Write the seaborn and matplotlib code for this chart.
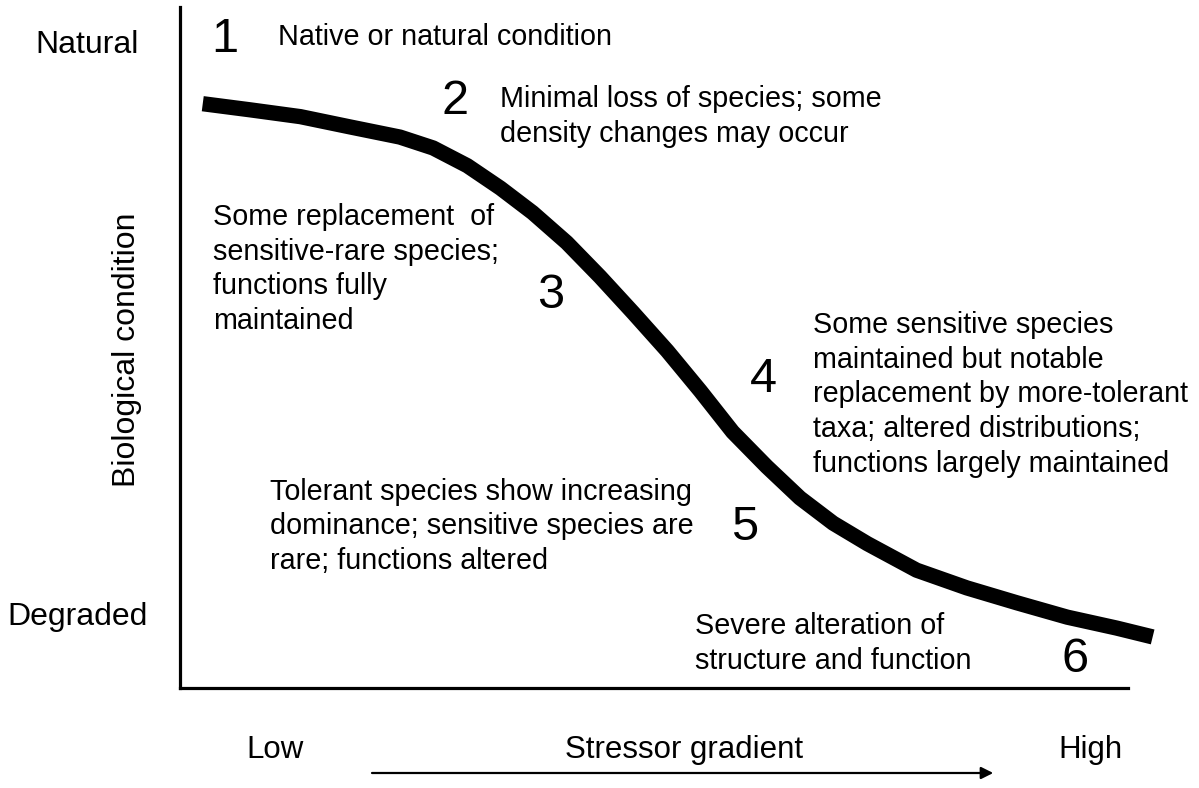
import numpy as np
import pandas as pd
import seaborn as sns
import matplotlib.pyplot as plt

# Courbe conceptuelle : condition biologique selon le gradient de stress (0-100)
stressor = [2.4, 7.4, 12.7, 17.9, 23.2, 26.7, 30.3, 33.8, 37.2, 40.8, 44.3,
            47.8, 51.4, 54.9, 58.3, 61.9, 65.4, 68.9, 72.5, 77.7, 83.0, 88.3,
            93.6, 98.8, 102.6]
condition = [85.8, 84.9, 83.9, 82.4, 80.9, 79.3, 76.7, 73.4, 69.8, 65.4, 60.4,
             55.1, 49.5, 43.6, 37.6, 32.5, 27.9, 24.2, 21.2, 17.3, 14.7, 12.5,
             10.4, 8.8, 7.5]

tier_numbers = ["1", "2", "3", "4", "5", "6"]
tier_texts = [
    "Native or natural condition",
    "Minimal loss of species; some\ndensity changes may occur",
    "Some replacement  of\nsensitive-rare species;\nfunctions fully\nmaintained",
    "Some sensitive species\nmaintained but notable\nreplacement by more-tolerant\ntaxa; altered distributions;\nfunctions largely maintained",
    "Tolerant species show increasing\ndominance; sensitive species are\nrare; functions altered",
    "Severe alteration of\nstructure and function",
]

df = pd.DataFrame({"stressor": stressor, "condition": condition})

sns.set_style("white")
plt.rcParams['font.family'] = ['Liberation Sans', 'DejaVu Sans']
plt.rcParams['text.color'] = 'black'

W, H = 1199, 788
fig = plt.figure(figsize=(W / 100, H / 100), dpi=100)


def fx(px):
    return px / W


def fy(py):
    return 1 - py / H


ax = fig.add_axes([fx(180), fy(688), (1128 - 180) / W, (688 - 7) / H])
sns.lineplot(data=df, x="stressor", y="condition", sort=False, color="black",
             linewidth=11, solid_capstyle="butt", solid_joinstyle="round",
             clip_on=False, ax=ax)
ax.set_xlim(0, 100)
ax.set_ylim(0, 100)
ax.set_xticks([])
ax.set_yticks([])
ax.set_xlabel("")
ax.set_ylabel("")
for side in ["top", "right"]:
    ax.spines[side].set_visible(False)
for side in ["left", "bottom"]:
    ax.spines[side].set_color("black")
    ax.spines[side].set_linewidth(2.3)

# Libellés des axes
fig.text(fx(87), fy(45), "Natural", fontsize=23, ha='center', va='center')
fig.text(fx(78), fy(617), "Degraded", fontsize=23, ha='center', va='center')
fig.text(fx(127), fy(350), "Biological condition", fontsize=23, rotation=90,
         ha='center', va='center')
fig.text(fx(275), fy(750), "Low", fontsize=22.5, ha='center', va='center')
fig.text(fx(684), fy(750), "Stressor gradient", fontsize=22.5, ha='center', va='center')
fig.text(fx(1090), fy(750), "High", fontsize=22.5, ha='center', va='center')
fig.add_artist(plt.Line2D([fx(372), fx(985)], [fy(773), fy(773)], color="black", lw=1.6))
ax.annotate("", xy=(fx(996), fy(773)), xytext=(fx(982), fy(773)),
            xycoords='figure fraction', textcoords='figure fraction',
            arrowprops=dict(arrowstyle='-|>', color='black', lw=1.6, mutation_scale=18))

# Niveaux 1 à 6
num_pos = [(225, 40), (455, 102), (551, 295), (763, 380), (745, 528), (1075, 660)]
text_pos = [(278, 37), (500, 116.5), (213, 269), (813, 394.5), (270, 526.5), (695, 643.5)]
for num, (nx, ny) in zip(tier_numbers, num_pos):
    fig.text(fx(nx), fy(ny), num, fontsize=35, ha='center', va='center')
for txt, (tx, ty) in zip(tier_texts, text_pos):
    fig.text(fx(tx), fy(ty), txt, fontsize=20.7, ha='left', va='center', linespacing=1.31)

plt.savefig("out.png", dpi=100)
